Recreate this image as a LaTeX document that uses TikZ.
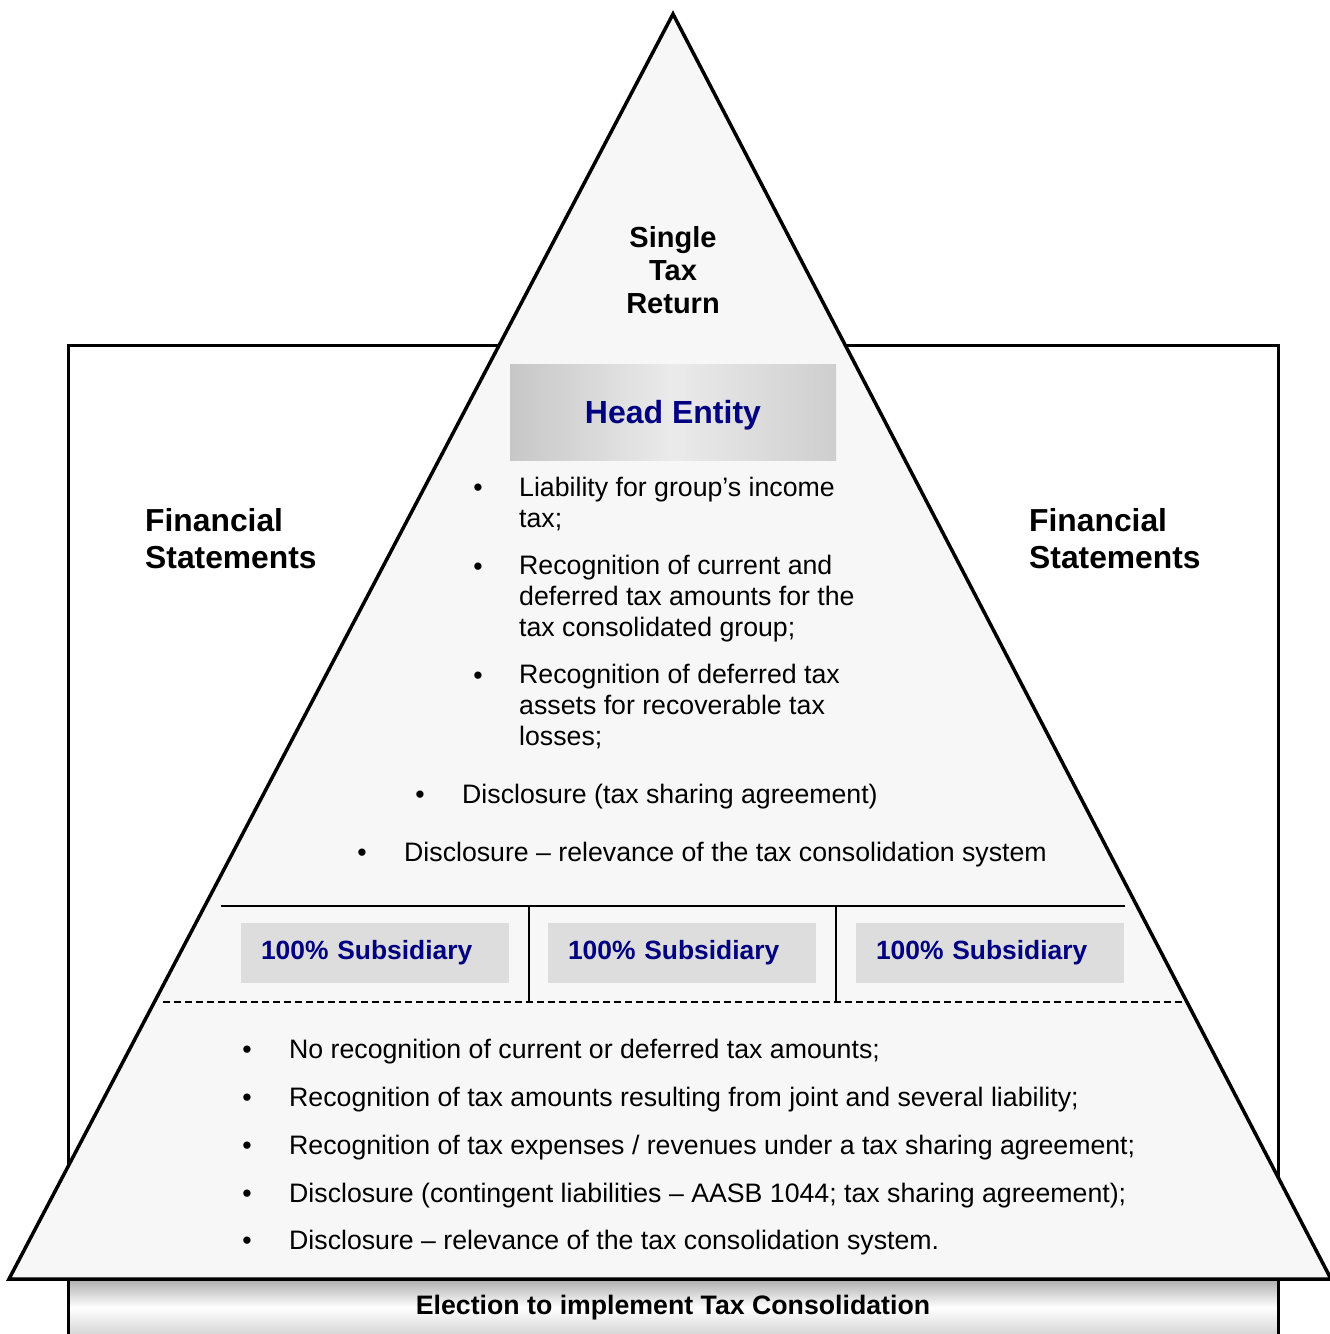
\documentclass[tikz,border=0pt]{standalone}
\usepackage{fontspec}
\setmainfont{Liberation Sans}
\usepackage{tikz}
\usetikzlibrary{calc}
\definecolor{pyrfill}{RGB}{247,247,247}
\definecolor{subfill}{RGB}{221,221,221}
\definecolor{navytxt}{RGB}{0,0,128}
\tikzset{
  % outlines
  pyrline/.style  = {line width=3.5pt, draw=black, line join=miter},
  boxline/.style  = {line width=3pt, draw=black},
  sepline/.style  = {line width=1.6pt, draw=black},
  sepdash/.style  = {line width=1.3pt, draw=black, dash pattern=on 7pt off 4pt},
  % boxes
  headbox/.style  = {left color=black!22, right color=black!19, middle color=black!8,
                     minimum width=326pt, minimum height=96pt, inner sep=0pt, text depth=0pt,
                     font=\fontsize{32}{36}\selectfont\bfseries, text=navytxt},
  subbox/.style   = {fill=subfill, minimum height=60pt, text width=228pt,
                     inner xsep=20pt, inner ysep=0pt, align=left,
                     font=\fontsize{26.4}{30}\selectfont\bfseries, text=navytxt},
  basebar/.style  = {top color=black!30, bottom color=black!16, middle color=white},
  % texts
  bodytxt/.style  = {font=\fontsize{26.7}{30.8}\selectfont, align=left, inner sep=0pt, anchor=base west},
  bulpt/.style    = {font=\fontsize{26.7}{30.8}\selectfont, inner sep=0pt, anchor=base},
  titletxt/.style = {font=\fontsize{29}{33}\selectfont\bfseries, align=center, inner sep=0pt},
  sidetxt/.style  = {font=\fontsize{31.8}{37}\selectfont\bfseries, align=left, inner sep=0pt, anchor=west},
  bartxt/.style   = {font=\fontsize{26.7}{30}\selectfont\bfseries, inner sep=0pt},
}

\begin{document}
\begin{tikzpicture}[x=1pt, y=-1pt]
  \useasboundingbox (0,0) rectangle (1330,1334);
  % outer frame (financial statements)
  \fill[white] (68,345) rectangle (1278,1334);
  \draw[boxline] (68,1334) -- (68,345) -- (1278,345) -- (1278,1334);
  % pyramid
  \coordinate (apex) at (673,14);
  \coordinate (baseL) at (9,1279);
  \coordinate (baseR) at (1331,1279);
  \draw[pyrline, fill=pyrfill] (apex) -- (baseL) -- (baseR) -- cycle;
  % base bar
  \shade[basebar] (68,1281) rectangle (1278,1334);
  \draw[boxline] (68,1279) -- (68,1334) (1278,1279) -- (1278,1334);
  \node[bartxt] (election) at (673,1308) {Election to implement Tax Consolidation};

  % headings
  \node[titletxt] (single) at (673,270) {Single\\Tax\\Return};
  \node[sidetxt] (finL) at (145,539) {Financial\\Statements};
  \node[sidetxt] (finR) at (1029,539) {Financial\\Statements};

  % head entity (base anchor = last line)
  \node[headbox] (head) at (673,412) {Head Entity};
  \node[bulpt] (hb1) at (478,496) {•};
  \node[bodytxt] (ht1) at (519,527) {Liability for group’s income\\tax;};
  \node[bulpt] (hb2) at (478,575) {•};
  \node[bodytxt] (ht2) at (519,636) {Recognition of current and\\deferred tax amounts for the\\tax consolidated group;};
  \node[bulpt] (hb3) at (478,684) {•};
  \node[bodytxt] (ht3) at (519,745) {Recognition of deferred tax\\assets for recoverable tax\\losses;};
  \node[bulpt] (hb4) at (420,803) {•};
  \node[bodytxt] (ht4) at (462,803) {Disclosure (tax sharing agreement)};
  \node[bulpt] (hb5) at (362,861) {•};
  \node[bodytxt] (ht5) at (404,861) {Disclosure – relevance of the tax consolidation system};

  % subsidiaries
  \draw[sepline] (221,906) -- (1125,906);
  \draw[sepline] (529,906) -- (529,1002);
  \draw[sepline] (836,906) -- (836,1002);
  \node[subbox] (sub1) at (375,953) {100\% Subsidiary};
  \node[subbox] (sub2) at (682,953) {100\% Subsidiary};
  \node[subbox] (sub3) at (990,953) {100\% Subsidiary};
  \draw[sepdash] (163,1002) -- (1182,1002);

  \node[bulpt] (sb1) at (247,1058) {•};
  \node[bodytxt] (st1) at (289,1058) {No recognition of current or deferred tax amounts;};
  \node[bulpt] (sb2) at (247,1106) {•};
  \node[bodytxt] (st2) at (289,1106) {Recognition of tax amounts resulting from joint and several liability;};
  \node[bulpt] (sb3) at (247,1154) {•};
  \node[bodytxt] (st3) at (289,1154) {Recognition of tax expenses / revenues under a tax sharing agreement;};
  \node[bulpt] (sb4) at (247,1202) {•};
  \node[bodytxt] (st4) at (289,1202) {Disclosure (contingent liabilities – AASB 1044; tax sharing agreement);};
  \node[bulpt] (sb5) at (247,1249) {•};
  \node[bodytxt] (st5) at (289,1249) {Disclosure – relevance of the tax consolidation system.};
\end{tikzpicture}
\end{document}
